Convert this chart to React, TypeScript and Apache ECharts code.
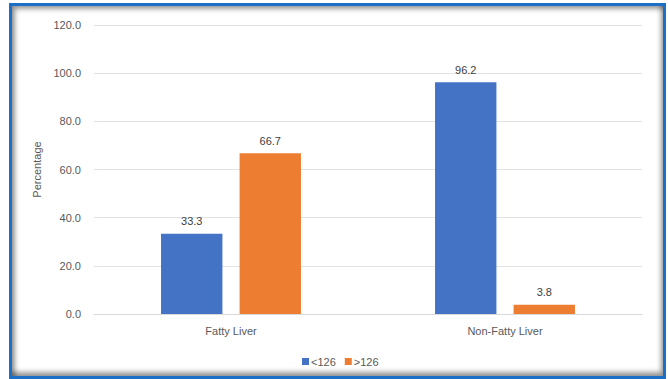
import React, { useEffect, useRef } from "react";
import * as echarts from "echarts";

const categories = ["Fatty Liver", "Non-Fatty Liver"];
const seriesNames = ["<126", ">126"];
const below126 = [33.3, 96.2];
const above126 = [66.7, 3.8];
const seriesColors = ["#4472C4", "#ED7D31"];
const yTicks = { min: 0, max: 120, interval: 20 };

const FONT = "'Liberation Sans', Arial, sans-serif";
const TEXT = "#595959";

export default function App() {
  const ref = useRef<HTMLDivElement>(null);

  useEffect(() => {
    if (!ref.current) return;
    const chart = echarts.init(ref.current, undefined, { renderer: "svg" });
    const values = [below126, above126];
    chart.setOption({
      animation: false,
      textStyle: { fontFamily: FONT },
      grid: { left: 94, right: 26, top: 25, bottom: 65 },
      legend: {
        data: seriesNames,
        left: 297,
        top: 351,
        icon: "rect",
        itemWidth: 7,
        itemHeight: 7,
        itemGap: 9,
        textStyle: { color: TEXT, fontSize: 11, fontFamily: FONT, padding: [0, 0, 0, -3] },
      },
      xAxis: {
        type: "category",
        data: categories,
        axisLine: { lineStyle: { color: "#d9d9d9" } },
        axisTick: { show: false },
        axisLabel: { color: TEXT, fontSize: 11, margin: 11 },
      },
      yAxis: {
        type: "value",
        min: yTicks.min,
        max: yTicks.max,
        interval: yTicks.interval,
        name: "Percentage",
        nameLocation: "middle",
        nameGap: 46,
        nameTextStyle: { color: TEXT, fontSize: 11 },
        axisLine: { show: false },
        axisTick: { show: false },
        axisLabel: { color: TEXT, fontSize: 11, margin: 13, formatter: (v: number) => v.toFixed(1) },
        splitLine: { lineStyle: { color: "#e3e3e3" } },
      },
      series: seriesNames.map((name, i) => ({
        name,
        type: "bar",
        data: values[i],
        barWidth: "22.4%",
        barGap: "28%",
        itemStyle: { color: seriesColors[i] },
        label: {
          show: true,
          position: "top",
          distance: 7,
          color: "#404040",
          fontSize: 11,
          formatter: (p: any) => Number(p.value).toFixed(1),
        },
      })),
    });
    return () => chart.dispose();
  }, []);

  return (
    <div style={{ position: "fixed", left: 0, top: 0, width: 668, height: 379, background: "#fff" }}>
      <div
        style={{
          position: "absolute",
          left: 9,
          top: 3,
          width: 657 - 6,
          height: 376 - 6,
          border: "3px solid #1b6fc6",
          boxShadow: "inset 3px 3px 5px rgba(0,0,0,0.4), inset -2px -4px 5px rgba(0,0,0,0.4)",
        }}
      />
      <div ref={ref} style={{ position: "absolute", left: 0, top: 0, width: 668, height: 379 }} />
    </div>
  );
}
